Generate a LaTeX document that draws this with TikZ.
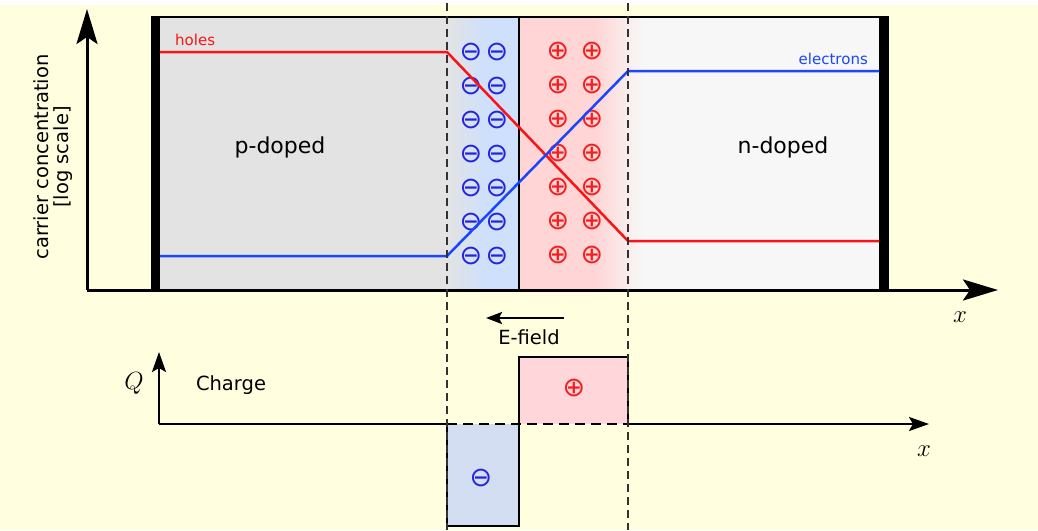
\documentclass[tikz,border=0pt]{standalone}
\usepackage{fontspec}
\setmainfont{DejaVu Sans}
\usetikzlibrary{arrows.meta}

\definecolor{bgyellow}{RGB}{255,255,224}
\definecolor{pgray}{RGB}{227,227,227}
\definecolor{ngray}{RGB}{247,247,247}
\definecolor{depblue}{RGB}{206,224,252}
\definecolor{deppink}{RGB}{255,213,213}
\definecolor{qblue}{RGB}{212,222,242}
\definecolor{qpink}{RGB}{255,214,218}
\definecolor{holered}{RGB}{250,20,20}
\definecolor{elecblue}{RGB}{25,70,255}
\definecolor{minusblue}{RGB}{35,35,225}
\definecolor{plusred}{RGB}{245,30,30}
\definecolor{dashgray}{RGB}{50,50,50}

\tikzset{
  bigarrow/.style={line width=3pt, -{Stealth[length=35pt, width=21pt, inset=7pt]}},
  smallarrow/.style={line width=2.5pt, -{Stealth[length=20pt, width=14pt, inset=4pt]}},
  carrier/.style={line width=2.5pt, line join=miter},
  boundary/.style={dashgray, line width=1.4pt, dash pattern=on 8pt off 5pt},
  minusion/.style={text=minusblue, font=\fontsize{27}{27}\selectfont, inner sep=0pt},
  plusion/.style={text=plusred, font=\fontsize{27}{27}\selectfont, inner sep=0pt},
  region/.style={font=\fontsize{22}{22}\selectfont, inner sep=0pt},
  smalllabel/.style={font=\fontsize{15}{15}\selectfont, inner sep=0pt},
  midlabel/.style={font=\fontsize{19.5}{19.5}\selectfont, inner sep=0pt},
  mathlabel/.style={font=\fontsize{27}{27}\selectfont, inner sep=0pt}
}

\begin{document}
\begin{tikzpicture}[x=1pt, y=-1pt]
  % page background
  \fill[white] (0,0) rectangle (1038,530);
  \fill[bgyellow] (0,5) rectangle (1038,530);
  \useasboundingbox (0,0) rectangle (1038,530);

  % semiconductor regions
  \fill[pgray] (160,17) rectangle (447,290);
  \shade[left color=pgray, right color=depblue] (447,17) rectangle (486,290);
  \fill[depblue] (485.5,17) rectangle (519,290);
  \fill[deppink] (519,17) rectangle (596,290);
  \shade[left color=deppink, right color=ngray] (595.5,17) rectangle (642,290);
  \fill[ngray] (641.5,17) rectangle (879,290);

  % crystal outline and contacts
  \draw[line width=2.5pt] (151,17) -- (889,17);
  \fill (151,16) rectangle (160,290);
  \fill (879,16) rectangle (889,290);
  \coordinate (jtop) at (519,17);
  \coordinate (jbot) at (519,290);
  \draw[line width=2pt] (jtop) -- (jbot);

  % fixed ionised dopants in the depletion zone
  \foreach \row in {0,...,6} {
    \node[minusion] (nm1-\row) at (471,{52+34*\row}) {⊖};
    \node[minusion] (nm2-\row) at (497,{52+34*\row}) {⊖};
    \node[plusion] (np1-\row) at (558,{51+34*\row}) {⊕};
    \node[plusion] (np2-\row) at (592,{51+34*\row}) {⊕};
  }

  % carrier concentrations
  \coordinate (h0) at (160,52);
  \coordinate (h1) at (447,52);
  \coordinate (h2) at (628,241);
  \coordinate (h3) at (879,241);
  \coordinate (e0) at (160,256);
  \coordinate (e1) at (447,256);
  \coordinate (e2) at (628,71);
  \coordinate (e3) at (879,71);
  \draw[carrier, holered] (h0) -- (h1) -- (h2) -- (h3);
  \draw[carrier, elecblue] (e0) -- (e1) -- (e2) -- (e3);

  \node[smalllabel, text=holered, anchor=base west] (holes) at (175,45) {holes};
  \node[smalllabel, text=elecblue, anchor=base east] (electrons) at (868,64) {electrons};

  \node[region] (pdoped) at (280,147) {p-doped};
  \node[region] (ndoped) at (783,147) {n-doped};

  % axes of the concentration plot
  \coordinate (origin) at (87,290);
  \coordinate (ytip) at (87,9);
  \coordinate (xtip) at (998,290);
  \draw[bigarrow] (origin) -- (ytip);
  \draw[bigarrow] (origin) -- (xtip);
  \node[midlabel, rotate=90] (ylab1) at (41,157) {carrier concentration};
  \node[midlabel, rotate=90] (ylab2) at (63,157) {[log scale]};
  \node[mathlabel] (xlab) at (960,317) {$x$};

  % electric field
  \coordinate (ef0) at (564,318);
  \coordinate (ef1) at (486,318);
  \draw[line width=2.5pt, -{Stealth[length=16pt, width=12pt, inset=3pt]}] (ef0) -- (ef1);
  \node[midlabel] (efield) at (529,337) {E-field};

  % space charge
  \coordinate (qorigin) at (159,424);
  \coordinate (qtip) at (159,352);
  \coordinate (qxtip) at (929,424);
  \coordinate (qa) at (447,424);
  \coordinate (qb) at (628,424);
  \filldraw[fill=qblue, line width=2.5pt] (447,424) -- (447,526) -- (519,526) -- (519,424);
  \filldraw[fill=qpink, line width=2.5pt] (519,424) -- (519,357) -- (628,357) -- (628,424);
  \draw[line width=2.5pt] (qorigin) -- (qa);
  \draw[line width=2.5pt, dash pattern=on 10pt off 6pt] (qa) -- (qb);
  \draw[smallarrow] (qb) -- (qxtip);
  \draw[smallarrow] (qorigin) -- (qtip);
  \node[minusion] (qminus) at (481,478) {⊖};
  \node[plusion] (qplus) at (574,388) {⊕};
  \node[mathlabel] (qlab) at (134,383) {$Q$};
  \node[midlabel] (charge) at (231,385) {Charge};
  \node[mathlabel] (qxlab) at (924,451) {$x$};

  % depletion zone edges
  \coordinate (la) at (447,3);
  \coordinate (lb) at (447,530);
  \coordinate (ra) at (628,3);
  \coordinate (rb) at (628,530);
  \draw[boundary] (la) -- (lb);
  \draw[boundary] (ra) -- (rb);
\end{tikzpicture}
\end{document}
